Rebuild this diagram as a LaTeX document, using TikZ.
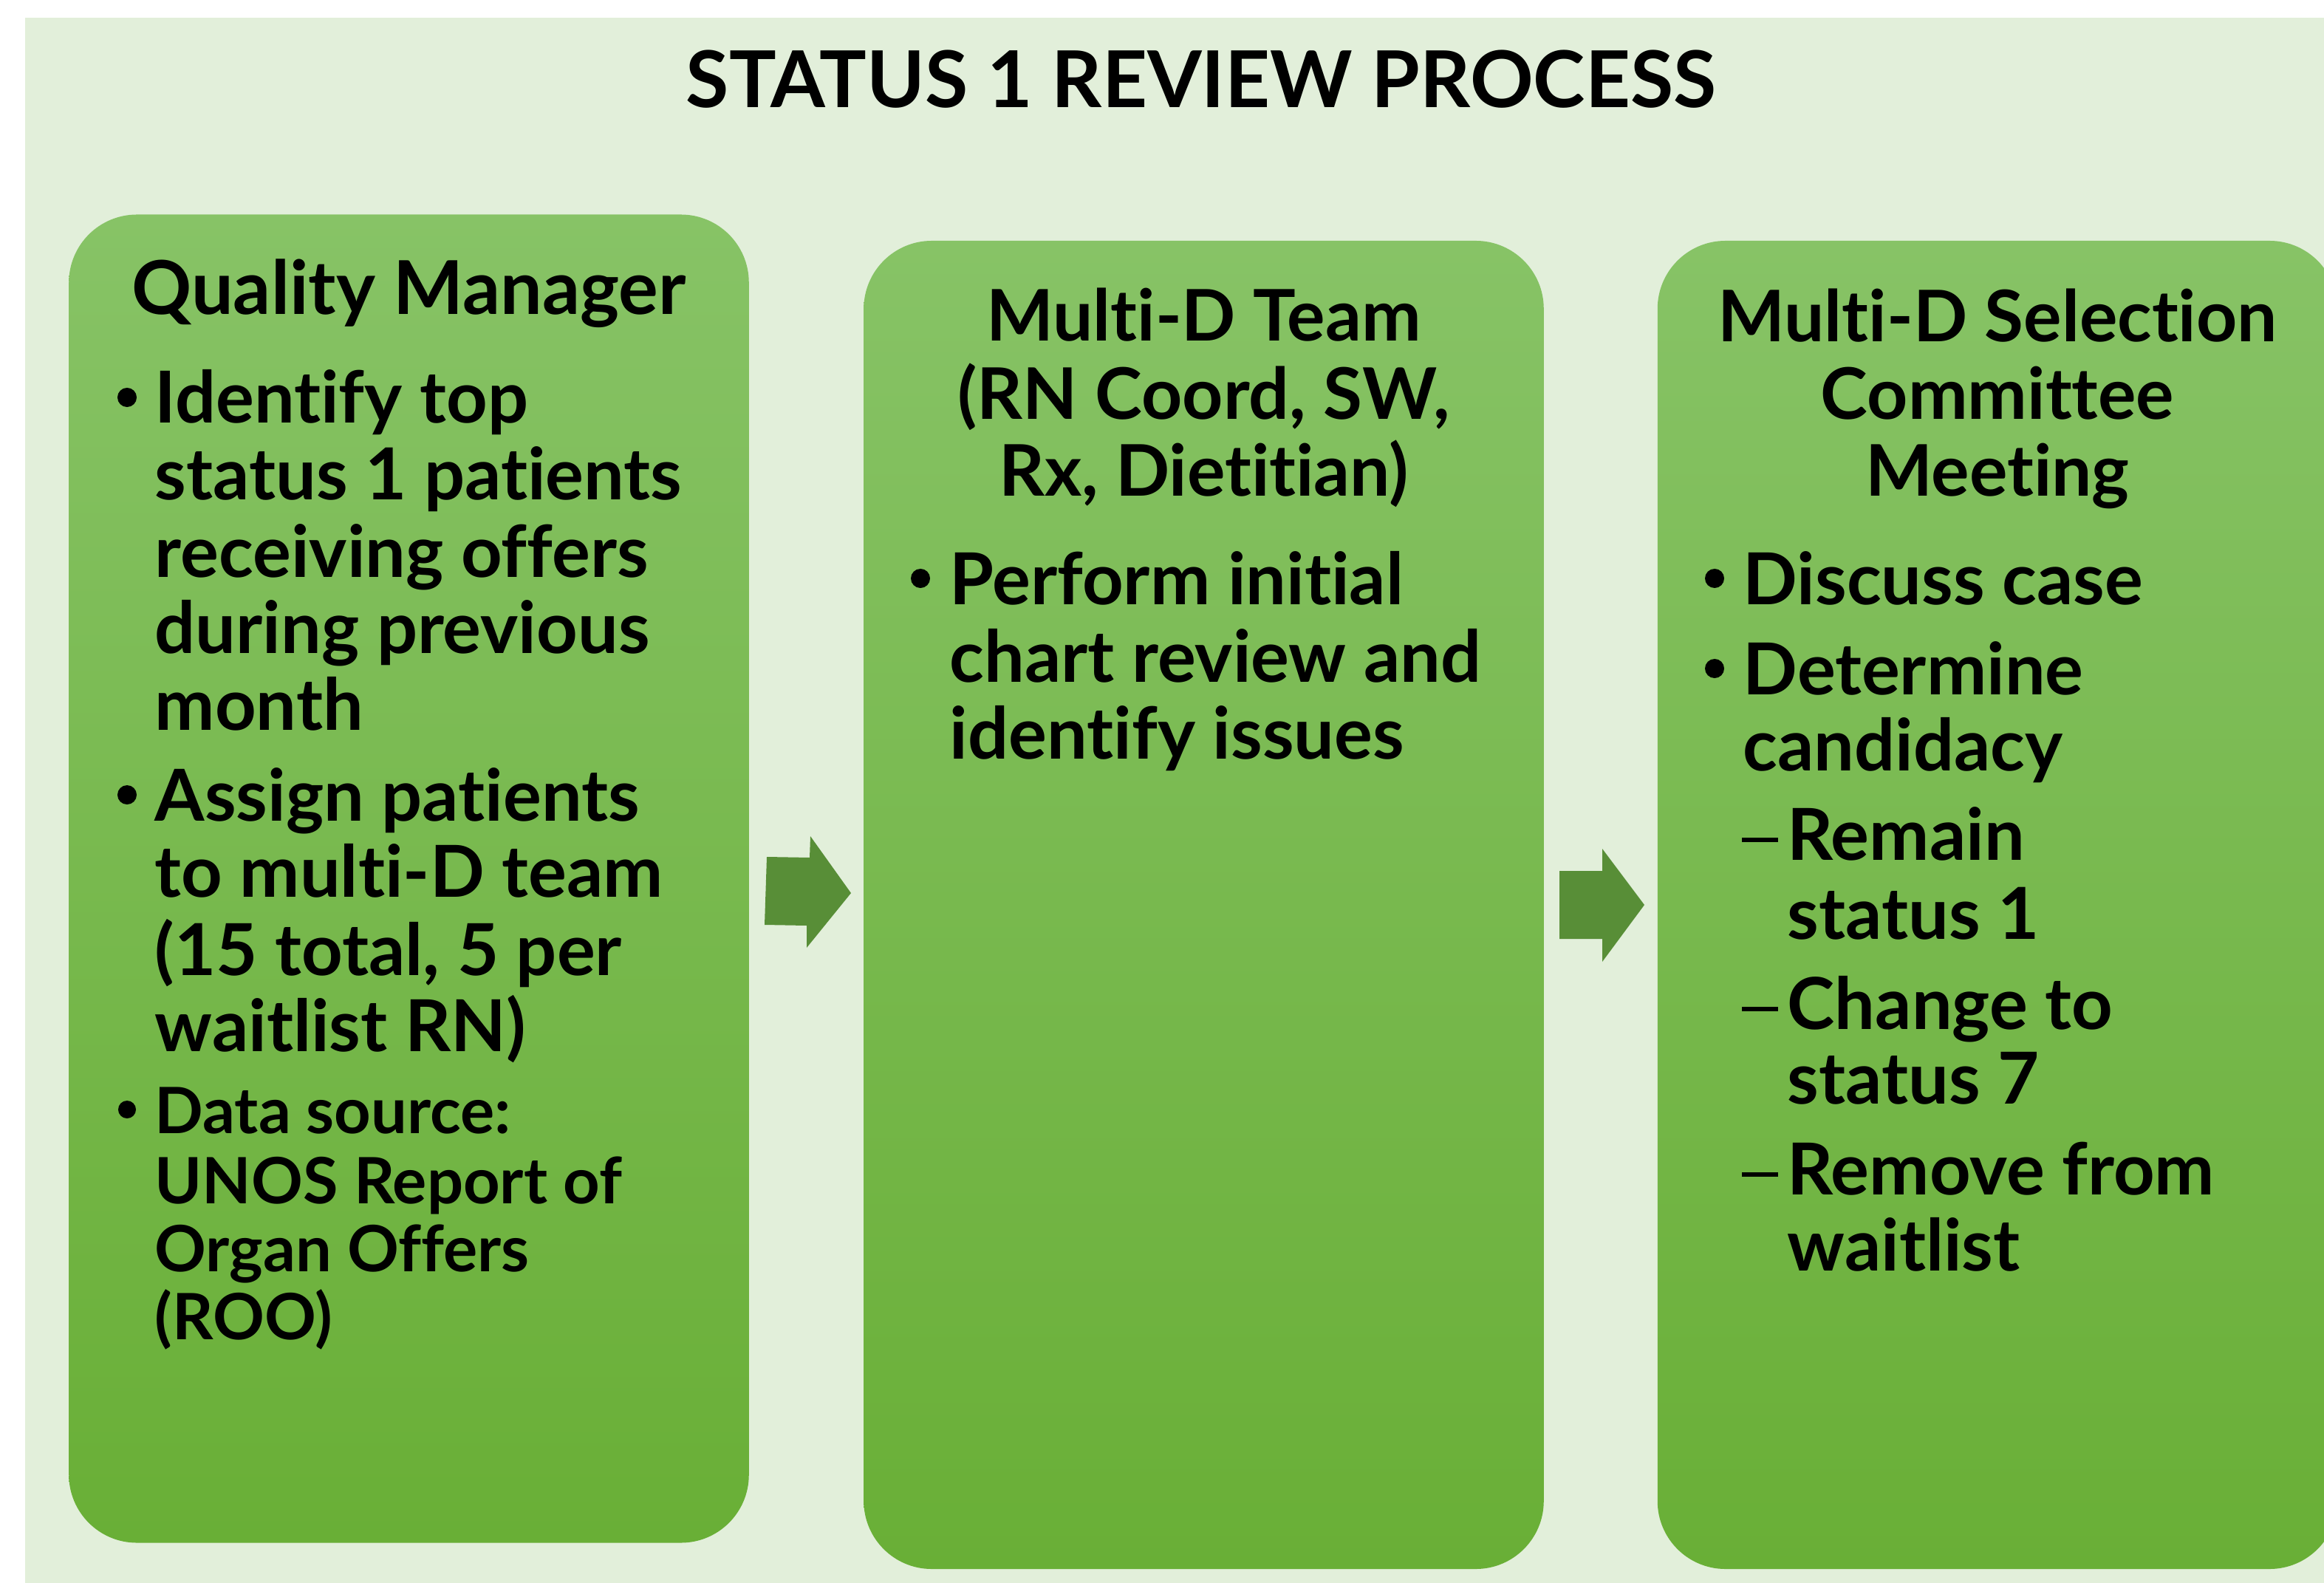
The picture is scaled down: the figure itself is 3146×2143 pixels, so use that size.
\documentclass[tikz,border=0pt]{standalone}
\usepackage{fontspec}
\setmainfont{Lato}[Ligatures=NoCommon]
\definecolor{paleGreen}{HTML}{E2EFDA}
\definecolor{boxTop}{HTML}{87C366}
\definecolor{boxMid}{HTML}{77BE44}
\definecolor{boxBot}{HTML}{69AF36}
\definecolor{arrowGreen}{HTML}{588E37}
\tikzset{
  stage/.style={rectangle, rounded corners=0.92cm, minimum width=9.2cm,
    minimum height=17.97cm, inner sep=0pt,
    top color=boxTop, middle color=boxMid, bottom color=boxBot},
  stagehead/.style={anchor=base, inner sep=0pt,
    font=\bfseries\fontsize{27.4}{30}\selectfont},
  txt/.style={anchor=base west, inner sep=0pt,
    font=\bfseries\fontsize{27.6}{30}\selectfont},
  txtsmall/.style={txt, font=\bfseries\fontsize{24.6}{27}\selectfont},
  bul/.style={circle, fill=black, inner sep=0pt, minimum size=0.26cm},
}
\begin{document}
\begin{tikzpicture}[x=0.01cm, y=-0.01cm]
\useasboundingbox (0,0) rectangle (3146,2143);
\clip (0,0) rectangle (3146,2143);
\fill[paleGreen] (34,24) rectangle (3146,2143);
\node[anchor=base, inner sep=0pt, font=\bfseries\fontsize{30.2}{34}\selectfont]
  (title) at (1626,146) {STATUS 1 REVIEW PROCESS};
% the three stages
\node[stage] (qm) at (553.5,1189.5) {};
\node[stage] (team) at (1629.5,1225) {};
\node[stage] (cmte) at (2704,1225) {};
% block arrows
\fill[arrowGreen] (1038,1160) -- (1096,1161) -- (1097,1132) -- (1152,1209)
  -- (1092,1283) -- (1092,1253) -- (1035,1252) -- cycle;
\fill[arrowGreen] (2111,1179) -- (2169,1179) -- (2169,1149) -- (2226,1225)
  -- (2169,1302) -- (2169,1271) -- (2111,1271) -- cycle;
% quality manager
\node[stagehead, font=\bfseries\fontsize{28.6}{30}\selectfont] (qmhead) at (553.5,426) {Quality Manager};
\foreach \y/\t [count=\i] in {573/Identify top, 676/status 1 patients,
  781/receiving offers, 884/during previous, 988/month, 1111/Assign patients,
  1214/to multi-D team, 1320/{(15 total, 5 per}, 1423/waitlist RN)}
  \node[txt] (qm\i) at (209,\y) {\t};
\foreach \y/\t [count=\i] in {1534/Data source:, 1629/UNOS Report of,
  1721/Organ Offers, 1813/(ROO)}
  \node[txtsmall] (src\i) at (209,\y) {\t};
\foreach \y in {573,1111}
  \node[bul] at (172,\y-35) {};
\node[bul, minimum size=0.24cm] at (172,1502) {};
% multi-d team
\foreach \y/\t [count=\i] in {462/Multi-D Team, 568/{(RN Coord, SW,},
  671/{Rx, Dietitian)}}
  \node[stagehead] (teamhead\i) at (1629.5,\y) {\t};
\foreach \y/\t [count=\i] in {818/Perform initial, 923/chart review and,
  1027/identify issues}
  \node[txt] (team\i) at (1285,\y) {\t};
\node[bul] at (1246,783) {};
% selection committee
\foreach \y/\t [count=\i] in {463/Multi-D Selection, 568/Committee,
  672/Meeting}
  \node[stagehead] (cmtehead\i) at (2704,\y) {\t};
\foreach \y/\t [count=\i] in {818/Discuss case, 940/Determine,
  1043/candidacy}
  \node[txt] (cmte\i) at (2359,\y) {\t};
\foreach \y in {818,940}
  \node[bul] at (2321,\y-35) {};
\foreach \y/\t [count=\i] in {1164/Remain, 1271/status 1, 1393/Change to,
  1494/status 7, 1617/Remove from, 1720/waitlist}
  \node[txt] (opt\i) at (2419,\y) {\t};
\foreach \y in {1164,1393,1617}
  \draw[line width=0.055cm] (2358,\y-27) -- (2407,\y-27);
\end{tikzpicture}
\end{document}
